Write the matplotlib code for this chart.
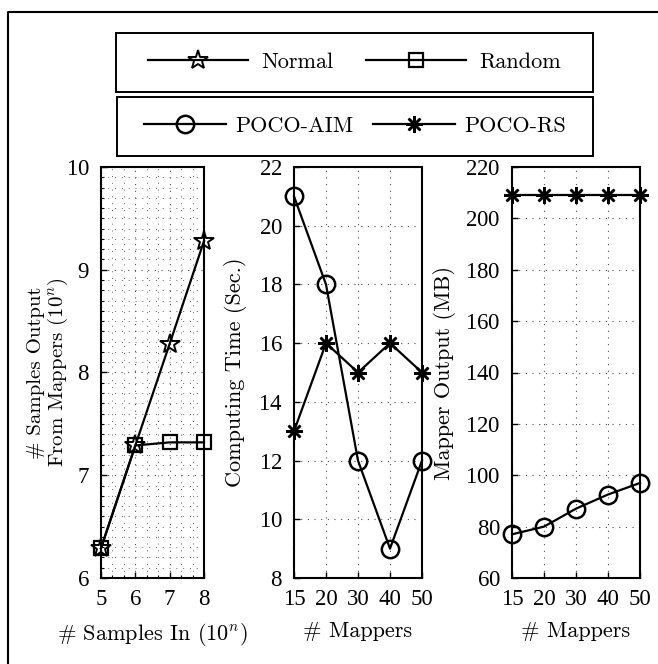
import matplotlib
matplotlib.use("Agg")
import matplotlib.pyplot as plt
from matplotlib.ticker import MultipleLocator, FixedLocator
from matplotlib.lines import Line2D
from matplotlib.patches import Rectangle
import numpy as np

# %% Data

samples_in = [5, 6, 7, 8]
normal_out = [6.29, 7.29, 8.28, 9.28]
random_out = [6.29, 7.29, 7.32, 7.32]

mappers = ["15", "20", "30", "40", "50"]
time_aim = [21, 18, 12, 9, 12]
time_rs = [13, 16, 15, 16, 15]

out_aim = [77, 80, 87, 92.5, 97]
out_rs = [209, 209, 209, 209, 209]

# %% Style

plt.rcParams["mathtext.fontset"] = "cm"
plt.rcParams["axes.formatter.use_mathtext"] = True
tick_font = {"family": "Liberation Serif", "size": 16.5}
lab_font = {"family": "cmr10", "size": 16}

line_kw = dict(color="k", lw=1.6)
star = dict(marker="*", ms=15, mfc="none", mec="k", mew=1.4)
square = dict(marker="s", ms=10, mfc="none", mec="k", mew=1.6)
circle = dict(marker="o", ms=12.5, mfc="none", mec="k", mew=1.8)
aster = dict(marker=(8, 2, 0), ms=12, mec="k", mew=1.8)
grid_kw = dict(color="0.3", lw=0.8, linestyle=(0, (1, 5)))

W, H = 658, 664
fig = plt.figure(figsize=(W / 100, H / 100), dpi=100)


def box(x0, x1):
    return [x0 / W, 1 - 578 / H, (x1 - x0) / W, (578 - 167) / H]


def style(ax):
    for s in ax.spines.values():
        s.set_linewidth(1.5)
    ax.tick_params(direction="in", length=4, width=1, which="major")
    ax.tick_params(axis="x", pad=8)
    ax.tick_params(axis="y", pad=8)
    ax.tick_params(direction="in", length=2, width=0.8, which="minor")
    for t in ax.get_xticklabels() + ax.get_yticklabels():
        t.set_fontfamily(tick_font["family"])
        t.set_fontsize(tick_font["size"])


# %% Panel 1
ax1 = fig.add_axes(box(101, 204))
ax1.plot(samples_in, normal_out, **line_kw, **star, zorder=4, clip_on=False)
ax1.plot(samples_in, random_out, **line_kw, **square, zorder=3, clip_on=False)
ax1.set_xlim(5, 8)
ax1.set_ylim(6, 10)
ax1.xaxis.set_major_locator(FixedLocator(samples_in))
ax1.yaxis.set_major_locator(MultipleLocator(1))
ax1.xaxis.set_minor_locator(MultipleLocator(1 / 3))
ax1.yaxis.set_minor_locator(MultipleLocator(0.1))
ax1.grid(True, which="major", **grid_kw)
ax1.grid(True, which="minor", color="0.4", lw=0.7, linestyle=(0, (1, 6)))
ax1.set_xlabel("# Samples In (10$^n$)", **lab_font)
ax1.set_ylabel("# Samples Output\nFrom Mappers (10$^n$)", family="cmr10",
               size=15, linespacing=1.05)
ax1.xaxis.set_label_coords(0.5, -0.105)
ax1.yaxis.set_label_coords(-0.3, 0.5)
style(ax1)

# %% Panel 2
ax2 = fig.add_axes(box(294, 422))
xpos = np.arange(len(mappers))
ax2.plot(xpos, time_aim, **line_kw, **circle, clip_on=False)
ax2.plot(xpos, time_rs, **line_kw, **aster, clip_on=False)
ax2.set_xlim(0, len(mappers) - 1)
ax2.set_ylim(8, 22)
ax2.set_xticks(xpos)
ax2.set_xticklabels(mappers)
ax2.yaxis.set_major_locator(MultipleLocator(2))
ax2.grid(True, **grid_kw)
ax2.set_xlabel("# Mappers", **lab_font)
ax2.set_ylabel("Computing Time (Sec.)", **lab_font)
ax2.xaxis.set_label_coords(0.5, -0.105)
ax2.yaxis.set_label_coords(-0.37, 0.5)
style(ax2)

# %% Panel 3
ax3 = fig.add_axes(box(512, 640))
ax3.plot(xpos, out_aim, **line_kw, **circle, clip_on=False)
ax3.plot(xpos, out_rs, **line_kw, **aster, clip_on=False)
ax3.set_xlim(0, len(mappers) - 1)
ax3.set_ylim(60, 220)
ax3.set_xticks(xpos)
ax3.set_xticklabels(mappers)
ax3.yaxis.set_major_locator(MultipleLocator(20))
ax3.grid(True, **grid_kw)
ax3.set_xlabel("# Mappers", **lab_font)
ax3.set_ylabel("Mapper Output (MB)", **lab_font)
ax3.xaxis.set_label_coords(0.5, -0.105)
ax3.yaxis.set_label_coords(-0.44, 0.5)
style(ax3)

# %% Legends (frames drawn as separate boxes)
leg_kw = dict(ncol=2, frameon=False, loc="center",
              prop={"family": "cmr10", "size": 16}, borderaxespad=0)

for (x0, y0, x1, y1) in [(116, 33, 593, 92), (117, 97, 593, 156)]:
    fig.add_artist(Rectangle((x0 / W, 1 - y1 / H), (x1 - x0) / W, (y1 - y0) / H,
                             transform=fig.transFigure, fill=False,
                             edgecolor="k", lw=1.4))

h1 = [Line2D([], [], **line_kw, **star), Line2D([], [], **line_kw, **square)]
fig.legend(h1, ["Normal", "Random"],
           bbox_to_anchor=(354.5 / W, 1 - 62.5 / H),
           handlelength=4.5, handletextpad=0.6, columnspacing=1.5, **leg_kw)
h2 = [Line2D([], [], **line_kw, **circle), Line2D([], [], **line_kw, **aster)]
fig.legend(h2, ["POCO-AIM", "POCO-RS"],
           bbox_to_anchor=(355 / W, 1 - 126.5 / H),
           handlelength=3.7, handletextpad=0.4, columnspacing=0.9, **leg_kw)

# outer frame (only left and top edges are inside the picture)
fig.add_artist(Line2D([8 / W, 8 / W, 1.0], [0.0, 1 - 12 / H, 1 - 12 / H],
                      transform=fig.transFigure, color="k", lw=1.5))

fig.savefig("out.png", dpi=100)
